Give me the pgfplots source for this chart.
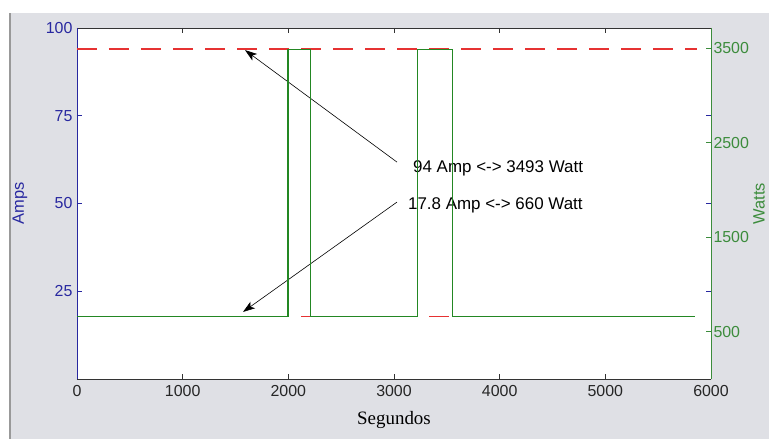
\documentclass[border=0pt]{standalone}
\usepackage{pgfplots}
\pgfplotsset{compat=1.18}
\usepackage{fontspec}
\setmainfont{Liberation Sans}
\newfontfamily\timesfont{Liberation Serif}
\usetikzlibrary{arrows.meta}
\definecolor{axblue}{RGB}{40,40,160}
\definecolor{axgreen}{RGB}{60,140,60}
\definecolor{lngreen}{RGB}{35,135,35}
\definecolor{lnred}{RGB}{230,50,50}
\definecolor{figgray}{RGB}{223,224,229}
\begin{document}
\begin{tikzpicture}
\fill[white] (-77bp,-60bp) rectangle (692bp,379bp);
\fill[figgray] (-67bp,-60bp) rectangle (692bp,366bp);
\draw[black!40, line width=2bp] (-67bp,-60bp) -- (-67bp,366bp);
\begin{axis}[
  at={(0,0)}, anchor=south west,
  scale only axis, width=634bp, height=351bp,
  xmin=0, xmax=6000, ymin=0, ymax=100,
  axis background/.style={fill=white},
  separate axis lines,
  x axis line style={black!80, line width=0.9bp},
  y axis line style={axblue, line width=0.9bp},
  xtick={0,1000,...,6000}, ytick={25,50,75,100},
  tick align=inside, major tick length=5bp,
  xtick style={black!80, line width=0.8bp},
  ytick style={axblue, line width=0.8bp},
  scaled ticks=false,
  /pgf/number format/1000 sep={},
  /pgf/number format/assume math mode=true,
  xticklabel style={font=\fontsize{16}{16}\selectfont, black!85, yshift=-2.5bp},
  yticklabel style={font=\fontsize{16}{16}\selectfont, axblue, xshift=-1bp},
  xlabel={\timesfont Segundos},
  xlabel style={at={(axis description cs:0.5,0)}, anchor=center, yshift=-41bp, font=\fontsize{19}{19}\selectfont, black},
  ylabel={Amps},
  ylabel style={at={(axis description cs:0,0.5)}, anchor=center, yshift=57bp, font=\fontsize{16.5}{16.5}\selectfont, axblue},
]
\addplot[lnred, line width=1.4bp, dash pattern=on 20bp off 12bp] coordinates {(0,94) (5870,94)};
\addplot[lnred, line width=1.4bp, dash pattern=on 20bp off 12bp] coordinates {(0,17.8) (5850,17.8)};
\draw[black, line width=0.6bp, -{Stealth[length=12bp, width=8bp, inset=3bp]}] (axis cs:3028,61.8) -- (axis cs:1590,93.7);
\draw[black, line width=0.6bp, -{Stealth[length=12bp, width=8bp, inset=3bp]}] (axis cs:3028,50.4) -- (axis cs:1571,19.1);
\node[anchor=west, inner sep=0pt, font=\fontsize{17}{17}\selectfont] at (axis cs:3180,60.1) {94 Amp <-> 3493 Watt};
\node[anchor=west, inner sep=0pt, font=\fontsize{17}{17}\selectfont] at (axis cs:3132,49.6) {17.8 Amp <-> 660 Watt};
\end{axis}
\begin{axis}[
  at={(0,0)}, anchor=south west,
  scale only axis, width=634bp, height=351bp,
  xmin=0, xmax=6000, ymin=0, ymax=3716,
  axis x line=none, axis y line*=right,
  y axis line style={axgreen, line width=0.9bp, -},
  ytick={500,1500,2500,3500},
  tick align=inside, major tick length=5bp,
  ytick style={axgreen, line width=0.8bp},
  scaled ticks=false,
  /pgf/number format/1000 sep={},
  /pgf/number format/assume math mode=true,
  yticklabel style={font=\fontsize{16}{16}\selectfont, axgreen, xshift=-1bp},
  ylabel={Watts},
  ylabel style={at={(axis description cs:1,0.5)}, anchor=center, yshift=-48bp, font=\fontsize{16.5}{16.5}\selectfont, axgreen},
]
\addplot[lngreen, line width=1.1bp] coordinates {
  (0,660) (1997,660) (1997,3493) (2214,3493) (2214,660)
  (3222,660) (3222,3493) (3553,3493) (3553,660) (5848,660)};
\end{axis}
\pgfresetboundingbox
\useasboundingbox (-77bp,-60bp) rectangle (692bp,379bp);
\end{tikzpicture}
\end{document}
